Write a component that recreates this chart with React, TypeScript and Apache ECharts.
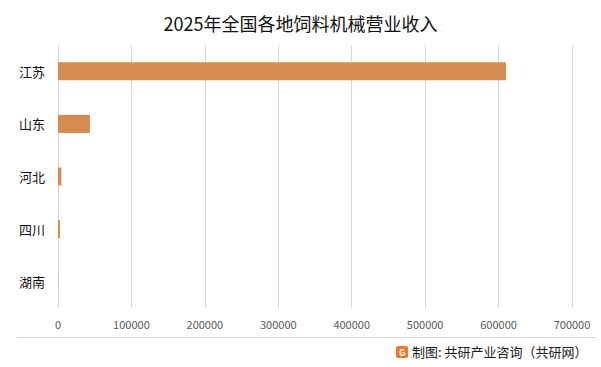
import React, { useEffect, useRef } from "react";
import * as echarts from "echarts";

const categories = ["江苏", "山东", "河北", "四川", "湖南"];
const revenue = [610000, 43500, 4500, 2800, 200];
const xTicksMax = 700000;
const xInterval = 100000;

export default function App() {
  const ref = useRef<HTMLDivElement>(null);
  useEffect(() => {
    if (!ref.current) return;
    const chart = echarts.init(ref.current, null, { renderer: "svg" });
    const font = "'Microsoft YaHei', 'Noto Sans CJK SC', sans-serif";
    chart.setOption({
      animation: false,
      backgroundColor: "#ffffff",
      title: {
        text: "2025年全国各地饲料机械营业收入",
        left: "center",
        top: 9,
        textStyle: { fontSize: 18, fontWeight: "normal", color: "#111111", fontFamily: font },
      },
      grid: { left: 58, right: 29, top: 45, bottom: 59, containLabel: false },
      xAxis: {
        type: "value",
        min: 0,
        max: xTicksMax,
        interval: xInterval,
        axisLine: { show: false },
        axisTick: { show: false },
        splitLine: { show: true, lineStyle: { color: "#d9d9d9", width: 1 } },
        axisLabel: {
          color: "#595959",
          fontSize: 11,
          margin: 10,
          fontFamily: font,
          formatter: (v: number) => String(v),
        },
      },
      yAxis: {
        type: "category",
        data: categories,
        inverse: true,
        axisLine: { show: false },
        axisTick: { show: false },
        axisLabel: { color: "#111111", fontSize: 13, margin: 13, fontFamily: font },
      },
      series: [
        {
          type: "bar",
          data: revenue,
          barWidth: 18,
          itemStyle: { color: "#D48D4F" },
        },
      ],
      graphic: [
        {
          type: "line",
          shape: { x1: 17, y1: 337.5, x2: 595, y2: 337.5 },
          style: { stroke: "#d9d9d9", lineWidth: 1 },
        },
        {
          type: "rect",
          shape: { x: 396, y: 346, width: 12, height: 12, r: 2 },
          style: { fill: "#F07A28" },
        },
        {
          type: "text",
          x: 399,
          y: 348,
          style: { text: "G", fill: "#ffffff", fontSize: 9, fontWeight: "bold", fontFamily: font },
        },
        {
          type: "text",
          x: 412,
          y: 345,
          style: { text: "制图: 共研产业咨询（共研网）", fill: "#1a1a1a", fontSize: 13, fontFamily: font },
        },
      ],
    });
    return () => chart.dispose();
  }, []);
  return <div ref={ref} style={{ width: 601, height: 367, position: "absolute", left: 0, top: 0 }} />;
}
